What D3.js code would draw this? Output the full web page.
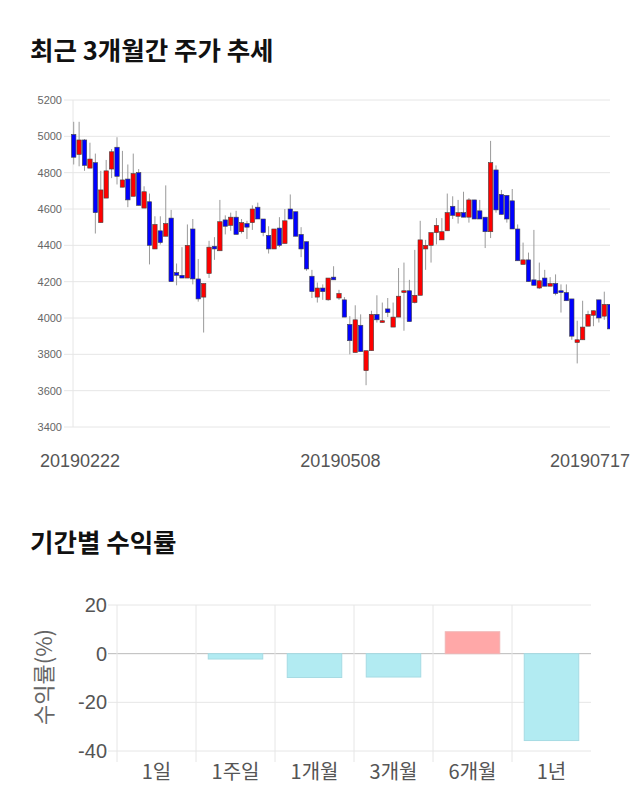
<!DOCTYPE html>
<html>
<head>
<meta charset="utf-8">
<script src="https://cdn.jsdelivr.net/npm/d3@7"></script>
<style>
  body { margin: 0; background: #fff; }
  text { font-family: "Liberation Sans", Arial, sans-serif; }
  .kr { font-family: "Noto Sans CJK KR", "Noto Sans", sans-serif; }
</style>
</head>
<body>
<div id="chart"></div>
<script>
// trading days shown in the candle chart
var dates = [
  "20190222","20190225","20190226","20190227","20190228",
  "20190304","20190305","20190306","20190307","20190308","20190311","20190312","20190313","20190314","20190315",
  "20190318","20190319","20190320","20190321","20190322","20190325","20190326","20190327","20190328","20190329",
  "20190401","20190402","20190403","20190404","20190405","20190408","20190409","20190410","20190411","20190412",
  "20190415","20190416","20190417","20190418","20190419","20190422","20190423","20190424","20190425","20190426",
  "20190429","20190430",
  "20190502","20190503","20190507","20190508","20190509","20190510","20190513","20190514","20190515","20190516",
  "20190517","20190520","20190521","20190522","20190523","20190524","20190527","20190528","20190529","20190530","20190531",
  "20190603","20190604","20190605","20190607","20190610","20190611","20190612","20190613","20190614","20190617",
  "20190618","20190619","20190620","20190621","20190624","20190625","20190626","20190627","20190628",
  "20190701","20190702","20190703","20190704","20190705","20190708","20190709","20190710","20190711","20190712",
  "20190715","20190716","20190717"
];
var opens = [5010,4900,4980,4825,4855,4525,4660,4820,4940,4720,4765,4670,4800,4605,4640,4380,4480,4450,4550,4250,
  4235,4220,4490,4215,4115,4245,4395,4370,4540,4510,4555,4475,4520,4525,4610,4545,4455,4380,4495,4410,
  4600,4585,4460,4420,4230,4115,4165,4100,4225,4110,4100,3965,3810,3960,3710,3820,4020,3975,4050,3950,
  4005,4140,4150,4085,4125,4380,4400,4470,4430,4480,4615,4560,4580,4555,4650,4590,4555,4475,4815,4680,
  4675,4645,4490,4295,4320,4210,4165,4220,4175,4190,4150,4140,4105,3865,3880,3955,4015,4100,4010,4075];
var highs = [5080,5080,4985,4965,4905,4810,4870,4930,4995,4920,4845,4905,4820,4725,4685,4560,4560,4730,4595,4300,
  4390,4515,4545,4325,4190,4425,4445,4650,4565,4580,4590,4545,4535,4620,4635,4545,4505,4490,4555,4600,
  4680,4585,4500,4420,4265,4195,4185,4220,4285,4155,4115,4010,4070,4020,3820,4040,4125,4085,4110,4085,
  4275,4305,4210,4375,4535,4430,4470,4550,4550,4685,4670,4650,4695,4660,4650,4650,4555,4975,4840,4705,
  4675,4710,4515,4415,4360,4485,4305,4265,4225,4240,4185,4185,4105,3985,4095,4040,4040,4100,4145,4075];
var lows = [4845,4835,4810,4825,4465,4525,4660,4770,4735,4720,4610,4670,4620,4605,4295,4380,4405,4450,4200,4180,
  4220,4220,4185,4090,3920,4220,4320,4370,4460,4480,4460,4465,4435,4485,4545,4450,4355,4380,4390,4410,
  4545,4450,4335,4260,4110,4085,4100,4095,4210,4100,4005,3800,3810,3815,3630,3820,3975,3975,4005,3950,
  4005,3930,3980,4080,4125,4265,4305,4405,4430,4480,4545,4520,4555,4525,4545,4545,4385,4440,4580,4570,
  4525,4490,4315,4295,4200,4180,4160,4175,4175,4125,4030,4095,3880,3750,3880,3955,3955,3975,3990,3940];
var closes = [4885,4980,4840,4875,4580,4705,4810,4915,4780,4760,4650,4795,4620,4695,4400,4515,4415,4520,4200,4235,
  4220,4400,4215,4105,4190,4390,4380,4530,4505,4555,4460,4525,4500,4600,4545,4470,4380,4490,4400,4535,
  4545,4450,4380,4270,4145,4165,4145,4220,4210,4135,4005,3875,3990,3815,3820,4020,3990,3985,4030,4005,
  4120,4150,3980,4125,4430,4400,4470,4510,4475,4580,4565,4580,4555,4650,4545,4545,4475,4855,4595,4570,
  4545,4490,4315,4320,4200,4180,4205,4175,4190,4135,4140,4095,3900,3880,3950,4020,4040,4000,4075,3940];
var priceTicks = [3400,3600,3800,4000,4200,4400,4600,4800,5000,5200];
var dateLabels = ["20190222","20190508","20190717"];

// period returns
var periods = ["1일","1주일","1개월","3개월","6개월","1년"];
var returns = [0,-2.2,-9.8,-9.6,9.0,-35.7];
var returnTicks = [20,0,-20,-40];

var svg = d3.select("#chart").append("svg")
  .attr("width", 640).attr("height", 810)
  .style("background", "#fff");

// ---------- candle chart ----------
svg.append("text").attr("class","kr")
  .attr("x", 30).attr("y", 60)
  .attr("font-size", 25.5).attr("font-weight", "bold").attr("fill", "#111")
  .text("최근 3개월간 주가 추세");

var cx0 = 73, cx1 = 610, cy0 = 100, cy1 = 427;
var x = d3.scaleLinear().domain([0, dates.length - 1]).range([73.7, 609.7]);
var y = d3.scaleLinear().domain([3400, 5200]).range([cy1, cy0]);

var g = svg.append("g");
g.selectAll("line.grid").data(priceTicks).enter().append("line")
  .attr("class","grid")
  .attr("x1", 64).attr("x2", cx1)
  .attr("y1", d => y(d)).attr("y2", d => y(d))
  .attr("stroke", "#e6e6e6").attr("stroke-width", 1);
g.append("line").attr("x1", cx0).attr("x2", cx0).attr("y1", cy0).attr("y2", cy1)
  .attr("stroke", "#e6e6e6");
g.selectAll("text.pt").data(priceTicks).enter().append("text")
  .attr("class","pt")
  .attr("x", 62).attr("y", d => y(d) + 4)
  .attr("text-anchor", "end").attr("font-size", 11).attr("fill", "#666")
  .text(d => d);

svg.append("clipPath").attr("id", "clip").append("rect")
  .attr("x", 60).attr("y", cy0 - 10).attr("width", cx1 - 60).attr("height", cy1 - cy0 + 20);

var candles = d3.range(dates.length);
var cg = svg.append("g").attr("clip-path", "url(#clip)");
cg.selectAll("line.wick").data(candles).enter().append("line")
  .attr("class","wick")
  .attr("x1", i => x(i)).attr("x2", i => x(i))
  .attr("y1", i => y(highs[i])).attr("y2", i => y(lows[i]))
  .attr("stroke", "#9a9a9a").attr("stroke-width", 1);
cg.selectAll("rect.body").data(candles).enter().append("rect")
  .attr("class","body")
  .attr("x", i => x(i) - 2.2)
  .attr("width", 4.4)
  .attr("y", i => y(Math.max(opens[i], closes[i])))
  .attr("height", i => Math.max(1.5, Math.abs(y(opens[i]) - y(closes[i]))))
  .attr("fill", i => closes[i] >= opens[i] ? "#ff0000" : "#0000ff")
  .attr("stroke", "#444").attr("stroke-width", 0.6);

svg.selectAll("text.dl").data(dateLabels).enter().append("text")
  .attr("class","dl")
  .attr("x", d => {
    var px = x(dates.indexOf(d)) - 4;
    return Math.min(Math.max(px, 80), 590);
  })
  .attr("y", 467)
  .attr("text-anchor", "middle").attr("font-size", 18).attr("fill", "#555")
  .text(d => d);

// ---------- returns chart ----------
svg.append("text").attr("class","kr")
  .attr("x", 30).attr("y", 552)
  .attr("font-size", 25.5).attr("font-weight", "bold").attr("fill", "#111")
  .text("기간별 수익률");

var bx = d3.scaleBand().domain(periods).range([117, 591]).paddingInner(0).paddingOuter(0);
var by = d3.scaleLinear().domain([-40, 20]).range([751, 605]);

var bg = svg.append("g");
bg.selectAll("line.hg").data(returnTicks).enter().append("line")
  .attr("class","hg")
  .attr("x1", 108).attr("x2", 591)
  .attr("y1", d => by(d)).attr("y2", d => by(d))
  .attr("stroke", d => d === 0 ? "#bbbbbb" : "#e6e6e6");
var vlines = [117].concat(periods.map(p => bx(p) + bx.bandwidth()).slice(0, -1));
bg.selectAll("line.vg").data(vlines).enter().append("line")
  .attr("class","vg")
  .attr("x1", d => d).attr("x2", d => d)
  .attr("y1", 605).attr("y2", 762)
  .attr("stroke", "#e6e6e6");
bg.selectAll("text.rt").data(returnTicks).enter().append("text")
  .attr("class","rt")
  .attr("x", 107).attr("y", d => by(d) + 7)
  .attr("text-anchor", "end").attr("font-size", 20).attr("fill", "#555")
  .text(d => d);

var bw = bx.bandwidth() * 0.69;
bg.selectAll("rect.bar").data(periods).enter().append("rect")
  .attr("class","bar")
  .attr("x", (p) => bx(p) + (bx.bandwidth() - bw) / 2)
  .attr("width", bw)
  .attr("y", (p, i) => by(Math.max(0, returns[i])))
  .attr("height", (p, i) => Math.abs(by(returns[i]) - by(0)))
  .attr("fill", (p, i) => returns[i] >= 0 ? "#ffa8a8" : "#b2ebf2")
  .attr("stroke", (p, i) => returns[i] >= 0 ? "#f0b4b4" : "#a6dbe3")
  .attr("stroke-width", 1);

bg.selectAll("text.cat").data(periods).enter().append("text")
  .attr("class","kr cat")
  .attr("x", p => bx(p) + bx.bandwidth() / 2)
  .attr("y", 779)
  .attr("text-anchor", "middle").attr("font-size", 20).attr("fill", "#555")
  .text(p => p);

svg.append("text").attr("class","kr")
  .attr("transform", "translate(52,677) rotate(-90)")
  .attr("text-anchor", "middle").attr("font-size", 22).attr("fill", "#666")
  .text("수익률(%)");
</script>
</body>
</html>
